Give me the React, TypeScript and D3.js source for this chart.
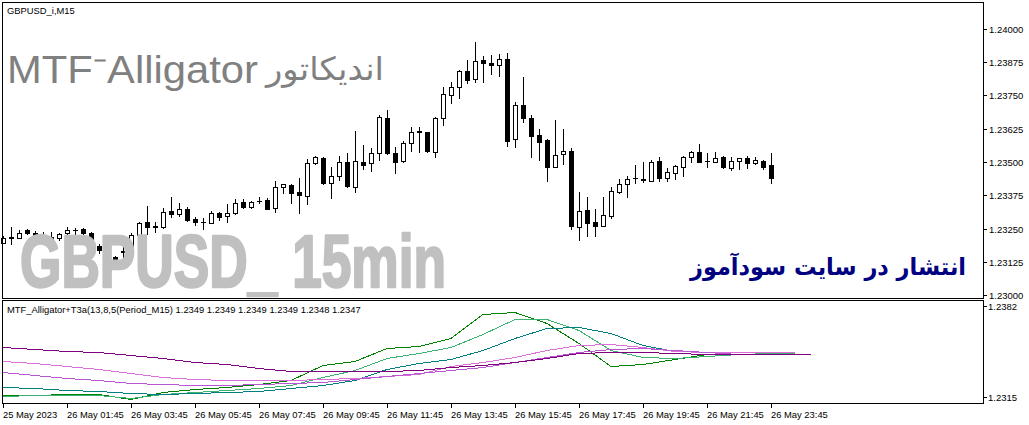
import * as d3 from 'd3';
import { useEffect, useRef } from 'react';

const chartWidth = 1029;
const chartHeight = 425;

const SMALL_FONT = '"Liberation Sans", Arial, sans-serif';
const PERSIAN_FONT = '"DejaVu Sans", sans-serif';

const symbolLabel = 'GBPUSD_i,M15';
const indicatorLabel = 'MTF_Alligator+T3a(13,8,5(Period_M15) 1.2349 1.2349 1.2349 1.2349 1.2348 1.2347';

const timeLabels = [
    '25 May 2023', '26 May 01:45', '26 May 03:45', '26 May 05:45', '26 May 07:45', '26 May 09:45', '26 May 11:45',
    '26 May 13:45', '26 May 15:45', '26 May 17:45', '26 May 19:45', '26 May 21:45', '26 May 23:45',
];
const priceTicks = [1.23, 1.23125, 1.2325, 1.23375, 1.235, 1.23625, 1.2375, 1.23875, 1.24];
const indicatorTicks = [1.2315, 1.2382];

// M15 bars, 25 May 23:45 .. 26 May 23:45
const opens = [
    1.23197, 1.23216, 1.23216, 1.23246, 1.23233, 1.23226, 1.23217, 1.23214, 1.23232, 1.23246,
    1.23248, 1.23232, 1.23184, 1.23164, 1.23143, 1.23162, 1.23165, 1.23226, 1.23273, 1.23258,
    1.23255, 1.23316, 1.23303, 1.23323, 1.23285, 1.23274, 1.2327, 1.2331, 1.23298, 1.23307,
    1.23351, 1.23332, 1.23355, 1.23357, 1.23326, 1.23405, 1.23414, 1.23386, 1.23372, 1.23495,
    1.23514, 1.2342, 1.23449, 1.23499, 1.23407, 1.23499, 1.23495, 1.23533, 1.23664, 1.23533,
    1.23505, 1.2357, 1.23615, 1.23612, 1.23539, 1.23664, 1.23752, 1.23781, 1.23842, 1.23811,
    1.23883, 1.23872, 1.23864, 1.23887, 1.23585, 1.23714, 1.23664, 1.23602, 1.23583, 1.23482,
    1.23529, 1.23541, 1.23257, 1.2332, 1.23273, 1.23261, 1.23298, 1.23388, 1.23416, 1.2344,
    1.23434, 1.2343, 1.23504, 1.23441, 1.2346, 1.23482, 1.23518, 1.23537, 1.23505, 1.23501,
    1.23518, 1.23479, 1.23504, 1.23514, 1.23495, 1.23504, 1.23489,
];
const highs = [
    1.2322, 1.23255, 1.23244, 1.2325, 1.23241, 1.23238, 1.23235, 1.23233, 1.23257, 1.23253,
    1.23252, 1.23237, 1.23192, 1.23188, 1.23147, 1.23207, 1.23233, 1.23273, 1.23335, 1.23276,
    1.23326, 1.23367, 1.23345, 1.2333, 1.23294, 1.23288, 1.23317, 1.23313, 1.23341, 1.2336,
    1.2336, 1.23355, 1.23367, 1.23366, 1.2343, 1.23418, 1.23417, 1.23439, 1.2351, 1.23524,
    1.23518, 1.23482, 1.23523, 1.23533, 1.23617, 1.23564, 1.23552, 1.23677, 1.23696, 1.23558,
    1.23579, 1.2363, 1.2363, 1.23614, 1.23668, 1.23783, 1.238, 1.23846, 1.23883, 1.23952,
    1.23899, 1.23904, 1.23906, 1.2391, 1.23727, 1.23821, 1.23677, 1.23624, 1.23587, 1.23658,
    1.23624, 1.23552, 1.23386, 1.23367, 1.23323, 1.23367, 1.23407, 1.23436, 1.23449, 1.23489,
    1.23501, 1.23508, 1.23519, 1.23476, 1.23489, 1.23521, 1.2354, 1.23568, 1.23533, 1.23539,
    1.23523, 1.2352, 1.23515, 1.23523, 1.2352, 1.23506, 1.23533,
];
const lows = [
    1.23194, 1.23192, 1.23214, 1.23229, 1.23218, 1.23211, 1.232, 1.23207, 1.23231, 1.23229,
    1.23226, 1.23182, 1.23158, 1.23144, 1.2311, 1.23144, 1.23158, 1.23224, 1.23231, 1.23236,
    1.23251, 1.23294, 1.23298, 1.23278, 1.23263, 1.23247, 1.23269, 1.23282, 1.23276, 1.23303,
    1.23328, 1.23326, 1.23345, 1.23322, 1.23313, 1.23385, 1.23345, 1.23308, 1.23342, 1.23493,
    1.23417, 1.23364, 1.23432, 1.23407, 1.23388, 1.23473, 1.23467, 1.23508, 1.2353, 1.2346,
    1.23501, 1.23543, 1.23539, 1.23539, 1.23518, 1.23639, 1.23721, 1.2374, 1.23798, 1.23802,
    1.238, 1.23829, 1.23823, 1.2356, 1.23555, 1.23652, 1.2352, 1.23508, 1.2343, 1.23481,
    1.23493, 1.23248, 1.23207, 1.23223, 1.23223, 1.2326, 1.23291, 1.23382, 1.2337, 1.2342,
    1.23426, 1.23429, 1.23429, 1.2343, 1.23436, 1.23449, 1.23501, 1.235, 1.23482, 1.235,
    1.23479, 1.2347, 1.23473, 1.23479, 1.23494, 1.23474, 1.23422,
];
const closes = [
    1.23213, 1.23217, 1.23233, 1.23233, 1.23226, 1.23222, 1.23216, 1.23229, 1.23246, 1.23243,
    1.23233, 1.23184, 1.23169, 1.23162, 1.23132, 1.23164, 1.23224, 1.2327, 1.23257, 1.23256,
    1.23313, 1.23303, 1.23323, 1.23282, 1.23273, 1.23273, 1.2331, 1.23294, 1.2331, 1.23345,
    1.23332, 1.23351, 1.23354, 1.23323, 1.23405, 1.23416, 1.23385, 1.23375, 1.23495, 1.23518,
    1.23422, 1.23449, 1.23501, 1.23411, 1.23504, 1.2349, 1.23533, 1.23668, 1.23533, 1.23501,
    1.2357, 1.23612, 1.23613, 1.23543, 1.23664, 1.23755, 1.23781, 1.23842, 1.23808, 1.23881,
    1.23871, 1.23864, 1.23886, 1.2358, 1.23714, 1.23664, 1.23598, 1.23576, 1.2348, 1.23526,
    1.23541, 1.23261, 1.23316, 1.2327, 1.23261, 1.23301, 1.23391, 1.23416, 1.23436, 1.23438,
    1.23436, 1.23499, 1.23441, 1.23461, 1.23485, 1.23518, 1.23537, 1.23501, 1.23503, 1.23514,
    1.23482, 1.23504, 1.23514, 1.23495, 1.23508, 1.23482, 1.23441,
];

// indicator lines, sampled every 4 bars; the last value sits at the line's end bar (shifted lines)
const lineSteps = [0, 4, 8, 12, 16, 20, 24, 28, 32, 36, 40, 44, 48, 52, 56, 60, 64, 68, 72, 76, 80, 84, 88, 92, 96];
const greenLine = [
    1.23203, 1.23204, 1.23207, 1.23209, 1.23176, 1.2322, 1.2324, 1.23257, 1.23277, 1.23301, 1.234, 1.23426, 1.23509,
    1.23526, 1.23575, 1.23733, 1.2375, 1.23674, 1.23542, 1.23395, 1.23404, 1.23439, 1.2347, 1.23483, 1.23487,
];
const seaGreenLine = [
    1.23198, 1.23201, 1.23203, 1.23204, 1.23185, 1.23209, 1.23224, 1.23235, 1.23251, 1.23268, 1.23323, 1.23367,
    1.23444, 1.23477, 1.2352, 1.23601, 1.23702, 1.23702, 1.2363, 1.23498, 1.2345, 1.23444, 1.23461, 1.23472, 1.23477,
    1.2348,
];
const tealLine = [
    1.23257, 1.23247, 1.23237, 1.23229, 1.23218, 1.23211, 1.23214, 1.2322, 1.23229, 1.23247, 1.23268, 1.23301, 1.23373,
    1.23411, 1.23437, 1.23498, 1.23579, 1.23641, 1.23647, 1.23608, 1.23531, 1.23492, 1.23483, 1.23483, 1.23483, 1.23483,
];
const orchidLine = [
    1.23426, 1.23415, 1.23395, 1.23373, 1.23345, 1.23323, 1.23308, 1.23303, 1.23303, 1.23303, 1.23308, 1.23316,
    1.23327, 1.23339, 1.23393, 1.23421, 1.23454, 1.23498, 1.23531, 1.23538, 1.2352, 1.23492, 1.23483, 1.23483, 1.23483,
    1.23483,
];
const mediumOrchidLine = [
    1.23352, 1.23334, 1.23316, 1.23299, 1.23283, 1.23273, 1.23268, 1.23268, 1.23273, 1.23279, 1.2329, 1.23308, 1.23325,
    1.23345, 1.23367, 1.23389, 1.23421, 1.23454, 1.23487, 1.23505, 1.23509, 1.23498, 1.23483, 1.2347, 1.2347, 1.2347,
];
const purpleLine = [
    1.23516, 1.23507, 1.23494, 1.23483, 1.23465, 1.23446, 1.23421, 1.23404, 1.23378, 1.2336, 1.2336, 1.2336, 1.23362,
    1.23367, 1.23389, 1.234, 1.23421, 1.23444, 1.23477, 1.23483, 1.23483, 1.23477, 1.2347, 1.2347, 1.2347, 1.2347,
];
const lineEnds = [96, 99, 98, 99, 99, 101];
const lineColors = ['#008000', '#3cb371', '#008080', '#da70d6', '#ba55d3', '#800080'];

const App = () => {
    const svgRef = useRef<SVGSVGElement | null>(null);

    useEffect(() => {
        document.body.style.margin = '0';
        if (!svgRef.current) return;

        const svg = d3.select(svgRef.current).attr('width', chartWidth).attr('height', chartHeight);
        svg.selectAll('*').remove();

        const main = { left: 2, right: 983, top: 2, bottom: 298 };
        const sub = { top: 301, bottom: 403 };

        const xScale = d3.scaleLinear().domain([0, 96]).range([3, 771]);
        const yScale = d3.scaleLinear().domain([1.23, 1.24]).range([295, 29]);
        const yInd = d3.scaleLinear().domain([1.2315, 1.2382]).range([sub.bottom, sub.top]);

        svg.append('rect').attr('width', chartWidth).attr('height', chartHeight).attr('fill', '#ffffff');

        // Candles
        const candles = svg.append('g').attr('shape-rendering', 'crispEdges');
        opens.forEach((o, i) => {
            const c = closes[i];
            const cx = Math.round(xScale(i));
            candles
                .append('line')
                .attr('x1', cx + 0.5)
                .attr('x2', cx + 0.5)
                .attr('y1', Math.round(yScale(highs[i])))
                .attr('y2', Math.round(yScale(lows[i])) + 1)
                .attr('stroke', '#000');
            const top = Math.round(yScale(Math.max(o, c)));
            const bottom = Math.round(yScale(Math.min(o, c)));
            if (bottom - top < 1) {
                candles
                    .append('line')
                    .attr('x1', cx - 2)
                    .attr('x2', cx + 3)
                    .attr('y1', top + 0.5)
                    .attr('y2', top + 0.5)
                    .attr('stroke', '#000');
            } else if (c > o) {
                candles
                    .append('rect')
                    .attr('x', cx - 1.5)
                    .attr('y', top + 0.5)
                    .attr('width', 4)
                    .attr('height', bottom - top)
                    .attr('fill', '#fff')
                    .attr('stroke', '#000');
            } else {
                candles
                    .append('rect')
                    .attr('x', cx - 2)
                    .attr('y', top)
                    .attr('width', 5)
                    .attr('height', bottom - top + 1)
                    .attr('fill', '#000');
            }
        });

        // Indicator lines
        const lineData = [greenLine, seaGreenLine, tealLine, orchidLine, mediumOrchidLine, purpleLine];
        const lineGen = d3
            .line<[number, number]>()
            .x((d) => xScale(d[0]))
            .y((d) => Math.round(yInd(d[1])) + 0.5);
        lineData.forEach((vals, k) => {
            const pts: [number, number][] = vals.map((v, j) => [j < lineSteps.length ? lineSteps[j] : lineEnds[k], v]);
            svg.append('path')
                .attr('d', lineGen(pts))
                .attr('fill', 'none')
                .attr('stroke', lineColors[k])
                .attr('stroke-width', 1)
                .attr('shape-rendering', 'crispEdges');
        });

        // Overlay texts on the price pane
        svg.append('text')
            .attr('x', 7)
            .attr('y', 83)
            .attr('fill', '#808080')
            .style('font-family', SMALL_FONT)
            .style('font-size', '38px')
            .attr('textLength', 251)
            .attr('lengthAdjust', 'spacingAndGlyphs')
            .text('MTF⁻Alligator');
        svg.append('text')
            .attr('x', 384)
            .attr('y', 80)
            .attr('text-anchor', 'end')
            .attr('fill', '#808080')
            .style('font-family', PERSIAN_FONT)
            .style('font-size', '32px')
            .attr('textLength', 118)
            .attr('lengthAdjust', 'spacingAndGlyphs')
            .text('اندیکاتور');
        svg.append('text')
            .attr('x', 20)
            .attr('y', 287)
            .attr('fill', '#c0c0c0')
            .attr('stroke', '#c0c0c0')
            .attr('stroke-width', 2.5)
            .attr('stroke-linejoin', 'round')
            .style('font-family', SMALL_FONT)
            .style('font-weight', 'bold')
            .style('font-size', '75px')
            .attr('textLength', 426)
            .attr('lengthAdjust', 'spacingAndGlyphs')
            .text('GBPUSD_ 15min');
        svg.append('text')
            .attr('x', 966)
            .attr('y', 275)
            .attr('text-anchor', 'end')
            .attr('fill', '#000080')
            .style('font-family', PERSIAN_FONT)
            .style('font-weight', 'bold')
            .style('font-size', '24px')
            .attr('textLength', 276)
            .attr('lengthAdjust', 'spacingAndGlyphs')
            .text('انتشار در سایت سودآموز');

        // Frames
        const frames = svg.append('g').attr('fill', 'none').attr('stroke', '#000').attr('shape-rendering', 'crispEdges');
        frames
            .append('rect')
            .attr('x', main.left + 0.5)
            .attr('y', main.top + 0.5)
            .attr('width', main.right - main.left)
            .attr('height', main.bottom - main.top);
        frames
            .append('rect')
            .attr('x', main.left + 0.5)
            .attr('y', sub.top - 0.5)
            .attr('width', main.right - main.left)
            .attr('height', sub.bottom - sub.top + 1);

        // Price axis
        const priceAxis = svg.append('g').style('font-family', SMALL_FONT).style('font-size', '9.5px');
        priceTicks.forEach((p) => {
            const y = Math.round(yScale(p)) + 0.5;
            priceAxis
                .append('line')
                .attr('x1', main.right)
                .attr('x2', main.right + 4)
                .attr('y1', y)
                .attr('y2', y)
                .attr('stroke', '#000')
                .attr('shape-rendering', 'crispEdges');
            priceAxis
                .append('text')
                .attr('x', 989)
                .attr('y', y + 3.5)
                .attr('fill', '#000')
                .text(p.toFixed(5));
        });
        indicatorTicks.forEach((p, k) => {
            const y = Math.round(yInd(p)) + (k === 0 ? -6 : 5) + 0.5;
            priceAxis
                .append('line')
                .attr('x1', main.right)
                .attr('x2', main.right + 4)
                .attr('y1', y)
                .attr('y2', y)
                .attr('stroke', '#000')
                .attr('shape-rendering', 'crispEdges');
            priceAxis
                .append('text')
                .attr('x', 988)
                .attr('y', y + 3.5)
                .attr('fill', '#000')
                .text(p.toFixed(4));
        });

        // Time axis
        const timeAxis = svg.append('g').style('font-family', SMALL_FONT).style('font-size', '9.4px');
        timeLabels.forEach((label, k) => {
            const x = Math.round(xScale(k * 8)) + 0.5;
            timeAxis
                .append('line')
                .attr('x1', x)
                .attr('x2', x)
                .attr('y1', sub.bottom)
                .attr('y2', sub.bottom + 5)
                .attr('stroke', '#000')
                .attr('shape-rendering', 'crispEdges');
            timeAxis.append('text').attr('x', x - 0.5).attr('y', 417.5).attr('fill', '#000').text(label);
        });

        // Pane captions
        svg.append('text')
            .attr('x', 7)
            .attr('y', 14)
            .style('font-family', SMALL_FONT)
            .style('font-size', '9.4px')
            .text(symbolLabel);
        svg.append('text')
            .attr('x', 7)
            .attr('y', 312.5)
            .style('font-family', SMALL_FONT)
            .style('font-size', '9.4px')
            .text(indicatorLabel);
    }, []);

    return <svg ref={svgRef} style={{ display: 'block' }}></svg>;
};

export default App;
